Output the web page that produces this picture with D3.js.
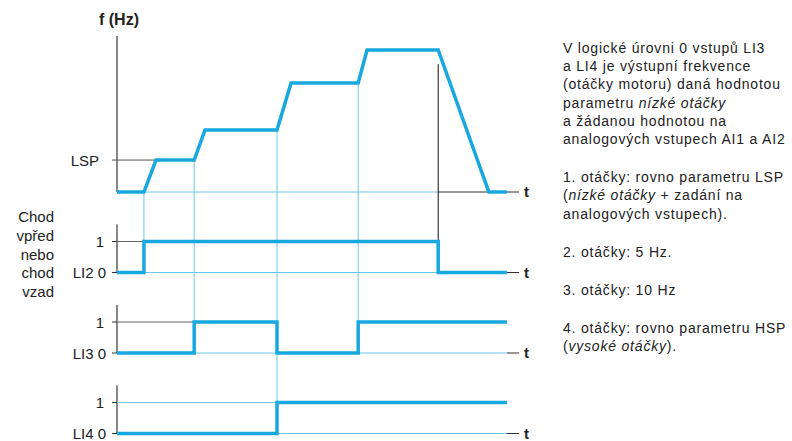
<!DOCTYPE html>
<html><head><meta charset="utf-8">
<script src="https://cdn.jsdelivr.net/npm/d3@7"></script>
<style>body{margin:0;background:#fff}svg{display:block}</style>
</head><body><svg id="c" width="792" height="441"></svg>
<script>
// ---- data ----
const freqT = [0, 6.7, 9.7, 19.2, 21.9, 39.8, 43.3, 60, 62.2, 79.9, 92.5, 97];
const freqF = [0, 0, 22.5, 22.5, 43.7, 43.7, 76.8, 76.8, 100, 100, 0, 0];
const lspValue = 22.5;
const logicNames = ["LI2", "LI3", "LI4"];
const li2T = [0, 6.7, 79.9, 97];
const li2V = [0, 1, 0, 0];
const li3T = [0, 19.2, 39.8, 60, 97];
const li3V = [0, 1, 0, 1, 1];
const li4T = [0, 39.8, 97];
const li4V = [0, 1, 1];
const guideT = [6.7, 19.2, 39.8, 60, 79.9];
const guideFromF = [0, 22.5, 43.7, 76.8, 90];
const guideToPanel = [0, 1, 2, 1, 0];
const level1LineEnd = [6.7, 19.2, 39.8];
const leftText = ["Chod", "vpřed", "nebo", "chod", "vzad"];
const paragraphs = [
  [[["V logické úrovni 0 vstupů LI3", false]],
   [["a LI4 je výstupní frekvence", false]],
   [["(otáčky motoru) daná hodnotou", false]],
   [["parametru ", false], ["nízké otáčky", true]],
   [["a žádanou hodnotou na", false]],
   [["analogových vstupech AI1 a AI2", false]]],
  [[["1. otáčky: rovno parametru LSP", false]],
   [["(", false], ["nízké otáčky", true], [" + zadání na", false]],
   [["analogových vstupech).", false]]],
  [[["2. otáčky: 5 Hz.", false]]],
  [[["3. otáčky: 10 Hz", false]]],
  [[["4. otáčky: rovno parametru HSP", false]],
   [["(", false], ["vysoké otáčky", true], [").", false]]]
];

// ---- drawing ----
const svg = d3.select("#c");
svg.append("rect").attr("width", 792).attr("height", 441).attr("fill", "#fff");
const FONT = "'Liberation Sans', Arial, Helvetica, sans-serif";
const THICK = "#17a8df", THIN = "#6cc6ea", DARK = "#333";

const x = d3.scaleLinear().domain([0, 100]).range([117, 519]);
const yF = d3.scaleLinear().domain([0, 100]).range([192, 50]);
const panelBase = [272.5, 353, 433.5];
const yL = panelBase.map(b => d3.scaleLinear().domain([0, 1]).range([b, b - 31]));

const gThin = svg.append("g").attr("fill", "none").attr("stroke-width", 1);
const gThick = svg.append("g").attr("fill", "none").attr("stroke", THICK)
  .attr("stroke-width", 3.5).attr("stroke-linejoin", "miter");
const gText = svg.append("g").attr("font-family", FONT).attr("fill", "#222");

function hline(y, x1, x2, color) {
  gThin.append("line").attr("x1", x1).attr("x2", x2).attr("y1", y).attr("y2", y).attr("stroke", color);
}
function vline(xp, y1, y2, color) {
  gThin.append("line").attr("x1", xp).attr("x2", xp).attr("y1", y1).attr("y2", y2).attr("stroke", color);
}

// frequency panel axes
vline(x(0), yF(0), 36, "#111");
hline(yF(0), x(0), x(79.9), THIN);
hline(yF(0), x(79.9), x(100), DARK);
hline(yF(lspValue), x(0) - 5, x(freqT[2]), "#555");
gText.append("text").attr("x", 99).attr("y", yF(lspValue) + 5.5).attr("text-anchor", "end")
  .attr("font-size", 15).text("LSP");
gText.append("text").attr("x", 119).attr("y", 25).attr("text-anchor", "middle")
  .attr("font-size", 16).attr("font-weight", "bold").text("f (Hz)");
gText.append("text").attr("x", 524).attr("y", yF(0) + 5).attr("font-size", 15)
  .attr("font-weight", "bold").text("t");

// logic panels axes
yL.forEach((s, i) => {
  vline(x(0), s(0), s(1.55), "#111");
  hline(s(0), x(0) - 5, x(0), DARK);
  hline(s(0), x(0), x(97), THIN);
  hline(s(0), x(97), x(100), DARK);
  hline(s(1), x(0) - 5, x(0), DARK);
  hline(s(1), x(0), x(level1LineEnd[i]), i === 2 ? THIN : "#666");
  gText.append("text").attr("x", 104).attr("y", s(1) + 5.5).attr("text-anchor", "end")
    .attr("font-size", 15).text("1");
  gText.append("text").attr("x", 106).attr("y", s(0) + 5.5).attr("text-anchor", "end")
    .attr("font-size", 15).text(logicNames[i] + " 0");
  gText.append("text").attr("x", 524).attr("y", s(0) + 5).attr("font-size", 15)
    .attr("font-weight", "bold").text("t");
});

// guide lines
guideT.forEach((t, i) => {
  const col = i === 4 ? "#111" : THIN;
  vline(x(t), yF(guideFromF[i]), yL[guideToPanel[i]](1), col);
});

// thick curves
const fLine = d3.line().x(d => x(d[0])).y(d => yF(d[1]));
gThick.append("path").attr("d", fLine(d3.zip(freqT, freqF)));
const logicData = [[li2T, li2V], [li3T, li3V], [li4T, li4V]];
logicData.forEach(([ts, vs], i) => {
  const ln = d3.line().curve(d3.curveStepAfter).x(d => x(d[0])).y(d => yL[i](d[1]));
  gThick.append("path").attr("d", ln(d3.zip(ts, vs)));
});

// left text
leftText.forEach((t, i) => {
  gText.append("text").attr("x", 54).attr("y", 222 + i * 18.75).attr("text-anchor", "end")
    .attr("font-size", 15).text(t);
});

// right description
let yb = 53;
paragraphs.forEach((para, pi) => {
  if (pi > 0) yb += 20;
  para.forEach(line => {
    const tx = gText.append("text").attr("x", 563).attr("y", yb).attr("font-size", 14)
      .attr("letter-spacing", 0.8);
    line.forEach(([s, it]) => {
      tx.append("tspan").attr("font-style", it ? "italic" : "normal").text(s);
    });
    yb += 18.2;
  });
});
</script></body></html>
